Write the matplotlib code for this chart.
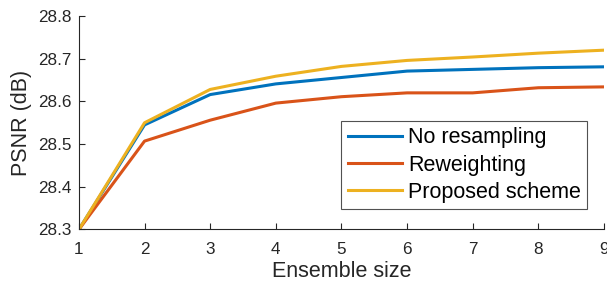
import numpy as np
import matplotlib.pyplot as plt

plt.rcParams['font.family'] = ['Liberation Sans', 'DejaVu Sans']

# Ensemble size vs PSNR
ensemble_size = [1, 2, 3, 4, 5, 6, 7, 8, 9]
no_resampling = [28.300, 28.545, 28.616, 28.641, 28.656, 28.671, 28.675, 28.679, 28.681]
reweighting = [28.300, 28.507, 28.556, 28.596, 28.611, 28.620, 28.620, 28.632, 28.634]
proposed = [28.300, 28.550, 28.628, 28.659, 28.682, 28.696, 28.704, 28.713, 28.720]

text_color = '#262626'
axis_color = '#262626'

fig = plt.figure(figsize=(6.07, 2.86), dpi=100)
ax = fig.add_axes([0.130, 0.1976, 0.865, 0.7464])

ax.plot(ensemble_size, no_resampling, color='#0072BD', lw=2.2, label='No resampling')
ax.plot(ensemble_size, reweighting, color='#D95319', lw=2.2, label='Reweighting')
ax.plot(ensemble_size, proposed, color='#EDB120', lw=2.2, label='Proposed scheme')

ax.set_xlim(1, 9)
ax.set_ylim(28.3, 28.8)
ax.set_xticks(ensemble_size)
ax.set_yticks([28.3, 28.4, 28.5, 28.6, 28.7, 28.8])
ax.set_yticklabels(['28.3', '28.4', '28.5', '28.6', '28.7', '28.8'])

for side in ['top', 'right']:
    ax.spines[side].set_visible(False)
for side in ['left', 'bottom']:
    ax.spines[side].set_color(axis_color)
    ax.spines[side].set_linewidth(0.8)

ax.tick_params(direction='in', length=4, width=0.8, color=axis_color,
               labelcolor=text_color, labelsize=12.3)
ax.tick_params(axis='x', pad=9)
ax.tick_params(axis='y', pad=5)

ax.set_xlabel('Ensemble size', fontsize=15.5, color=text_color, labelpad=3)
ax.set_ylabel('PSNR (dB)', fontsize=15.5, color=text_color, labelpad=5)

leg = ax.legend(loc='upper right', bbox_to_anchor=(0.968, 0.51), fontsize=15.5,
                frameon=True, fancybox=False, handlelength=2.55, handletextpad=0.25,
                borderpad=0.3, labelspacing=0.3, borderaxespad=0)
leg.get_frame().set_edgecolor('#262626')
leg.get_frame().set_linewidth(0.8)
for t in leg.get_texts():
    t.set_color('black')

fig.savefig('out.png', dpi=100)
